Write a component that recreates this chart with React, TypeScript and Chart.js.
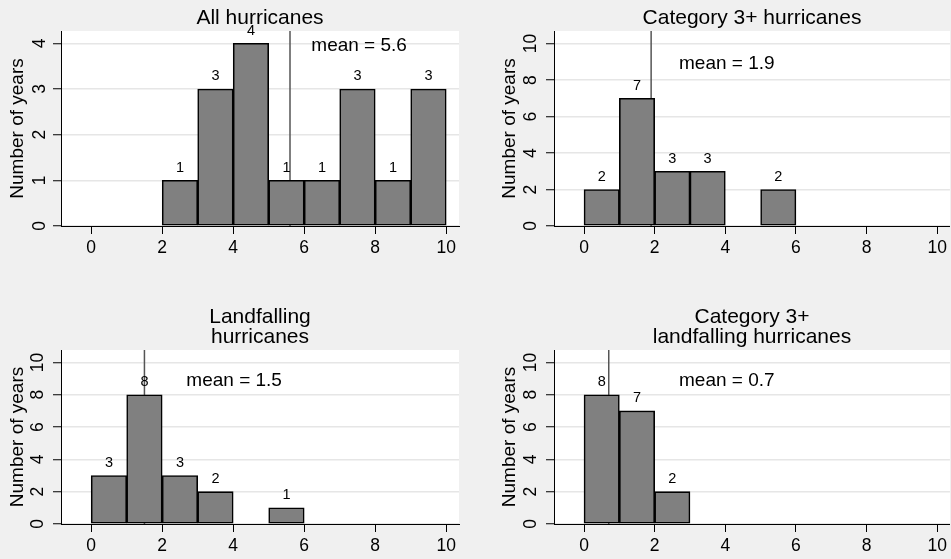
import React, { useEffect, useRef } from "react";
import { Chart, registerables } from "chart.js";

Chart.register(...registerables);

// ---------------- data ----------------
const panelTitles: string[][] = [
  ["All hurricanes"],
  ["Category 3+ hurricanes"],
  ["Landfalling", "hurricanes"],
  ["Category 3+", "landfalling hurricanes"],
];
const allBinStarts = [2, 3, 4, 5, 6, 7, 8, 9];
const allCounts = [1, 3, 4, 1, 1, 3, 1, 3];
const cat3BinStarts = [0, 1, 2, 3, 5];
const cat3Counts = [2, 7, 3, 3, 2];
const landBinStarts = [0, 1, 2, 3, 5];
const landCounts = [3, 8, 3, 2, 1];
const cat3LandBinStarts = [0, 1, 2];
const cat3LandCounts = [8, 7, 2];
const binWidth = 1;
const means = [5.6, 1.9, 1.5, 0.7];
const meanLabels = ["mean = 5.6", "mean = 1.9", "mean = 1.5", "mean = 0.7"];
const meanLabelX = [6.2, 2.69, 2.68, 2.69];
const meanLabelY = [3.84, 8.59, 8.53, 8.53];
const xTickValues = [0, 2, 4, 6, 8, 10];
const yTicksAll = [0, 1, 2, 3, 4];
const yTicksOther = [0, 2, 4, 6, 8, 10];
const xRange = [-0.85, 10.36];
const yMaxes = [4.27, 10.69, 10.77, 10.77];
const yAxisTitle = "Number of years";

const binStarts = [allBinStarts, cat3BinStarts, landBinStarts, cat3LandBinStarts];
const binCounts = [allCounts, cat3Counts, landCounts, cat3LandCounts];

// ---------------- layout / style ----------------
const FONT = '"Liberation Sans", Arial, Helvetica, sans-serif';
const panels = [
  { left: 0, top: 0, width: 475, height: 280, padL: 0, padT: 31, padR: 16, axisW: 61, axisH: 54, yTickPad: 8, titleBase: [24] },
  { left: 475, top: 0, width: 476, height: 280, padL: 17, padT: 31, padR: 1, axisW: 62, axisH: 54, yTickPad: 5, titleBase: [24] },
  { left: 0, top: 280, width: 475, height: 279, padL: 0, padT: 70, padR: 16, axisW: 61, axisH: 35, yTickPad: 5, titleBase: [43, 63] },
  { left: 475, top: 280, width: 476, height: 279, padL: 17, padT: 70, padR: 1, axisW: 62, axisH: 35, yTickPad: 5, titleBase: [43, 63] },
];

function buildChart(canvas: HTMLCanvasElement, i: number) {
  const p = panels[i];
  const starts = binStarts[i];
  const counts = binCounts[i];
  const data = starts.map((s, k) => ({ x: s + binWidth / 2, y: counts[k] }));
  const yTicks = i === 0 ? yTicksAll : yTicksOther;

  const overlay = {
    id: "overlay" + i,
    beforeDraw(chart: any) {
      const { ctx, chartArea: a } = chart;
      ctx.save();
      ctx.fillStyle = "#ffffff";
      ctx.fillRect(a.left, a.top, a.right - a.left, a.bottom - a.top);
      ctx.restore();
    },
    beforeDatasetsDraw(chart: any) {
      const { ctx, chartArea: a } = chart;
      const x = chart.scales.x;
      const px = x.getPixelForValue(means[i]);
      ctx.save();
      ctx.strokeStyle = "#555555";
      ctx.lineWidth = 1.5;
      ctx.beginPath();
      ctx.moveTo(px, a.top);
      ctx.lineTo(px, a.bottom);
      ctx.stroke();
      ctx.restore();
    },
    afterDatasetsDraw(chart: any) {
      const { ctx } = chart;
      const x = chart.scales.x;
      const y = chart.scales.y;
      ctx.save();
      ctx.fillStyle = "#000000";
      ctx.font = `14.5px ${FONT}`;
      ctx.textAlign = "center";
      ctx.textBaseline = "alphabetic";
      data.forEach((d) => {
        ctx.fillText(String(d.y), x.getPixelForValue(d.x), y.getPixelForValue(d.y) - 8.5);
      });
      ctx.font = `19px ${FONT}`;
      ctx.textAlign = "left";
      ctx.fillText(meanLabels[i], x.getPixelForValue(meanLabelX[i]), y.getPixelForValue(meanLabelY[i]));
      ctx.restore();
    },
    afterDraw(chart: any) {
      const { ctx, chartArea: a } = chart;
      ctx.save();
      ctx.fillStyle = "#000000";
      ctx.font = `21px ${FONT}`;
      ctx.textAlign = "center";
      ctx.textBaseline = "alphabetic";
      const cx = (a.left + a.right) / 2;
      panelTitles[i].forEach((t, k) => ctx.fillText(t, cx, p.titleBase[k]));
      ctx.restore();
    },
  };

  return new Chart(canvas, {
    type: "bar",
    data: {
      datasets: [
        {
          data,
          backgroundColor: "#808080",
          borderColor: "#000000",
          borderWidth: 1.6,
          borderSkipped: false,
          barPercentage: 1,
          categoryPercentage: 1,
        } as any,
      ],
    },
    options: {
      animation: false,
      responsive: false,
      maintainAspectRatio: false,
      devicePixelRatio: 1,
      events: [],
      layout: { padding: { left: p.padL, top: p.padT, right: p.padR, bottom: 0 } },
      plugins: {
        legend: { display: false },
        tooltip: { enabled: false },
        title: { display: false },
      },
      scales: {
        x: {
          type: "linear",
          position: "bottom",
          min: xRange[0],
          max: xRange[1],
          offset: false,
          afterBuildTicks: (s: any) => {
            s.ticks = xTickValues.map((v) => ({ value: v }));
          },
          afterFit: (s: any) => {
            s.height = p.axisH;
          },
          grid: {
            display: true,
            drawOnChartArea: false,
            drawTicks: true,
            tickLength: 8,
            tickColor: "#000000",
            tickWidth: 1,
            offset: false,
          },
          border: { display: true, color: "#000000", width: 1 },
          ticks: {
            color: "#000000",
            font: { family: FONT, size: 17.5 },
            padding: 4,
            autoSkip: false,
            maxRotation: 0,
            minRotation: 0,
          },
        },
        y: {
          type: "linear",
          position: "left",
          min: 0,
          max: yMaxes[i],
          afterBuildTicks: (s: any) => {
            s.ticks = yTicks.map((v) => ({ value: v }));
          },
          afterFit: (s: any) => {
            s.width = p.axisW;
          },
          grid: {
            color: "#e6e6e6",
            lineWidth: 1.5,
            drawTicks: true,
            tickLength: 8,
            tickColor: "#000000",
            tickWidth: 1,
          },
          border: { display: true, color: "#000000", width: 1 },
          ticks: {
            color: "#000000",
            font: { family: FONT, size: 17.5 },
            padding: p.yTickPad,
            autoSkip: false,
            minRotation: 90,
            maxRotation: 90,
            crossAlign: "center",
          },
          title: {
            display: true,
            text: yAxisTitle,
            color: "#000000",
            font: { family: FONT, size: 19 },
            padding: { top: 6.6, bottom: 0 },
          },
        },
      },
    } as any,
    plugins: [overlay],
  });
}

export default function App() {
  const refs = [
    useRef<HTMLCanvasElement>(null),
    useRef<HTMLCanvasElement>(null),
    useRef<HTMLCanvasElement>(null),
    useRef<HTMLCanvasElement>(null),
  ];

  useEffect(() => {
    const charts = refs.map((r, i) => buildChart(r.current as HTMLCanvasElement, i));
    return () => charts.forEach((c) => c.destroy());
  }, []);

  return (
    <div
      style={{
        position: "fixed",
        left: 0,
        top: 0,
        width: 951,
        height: 559,
        background: "#f0f0f0",
        overflow: "hidden",
      }}
    >
      {panels.map((p, i) => (
        <canvas
          key={i}
          ref={refs[i]}
          width={p.width}
          height={p.height}
          style={{
            position: "absolute",
            left: p.left,
            top: p.top,
            width: p.width,
            height: p.height,
            display: "block",
          }}
        />
      ))}
    </div>
  );
}
